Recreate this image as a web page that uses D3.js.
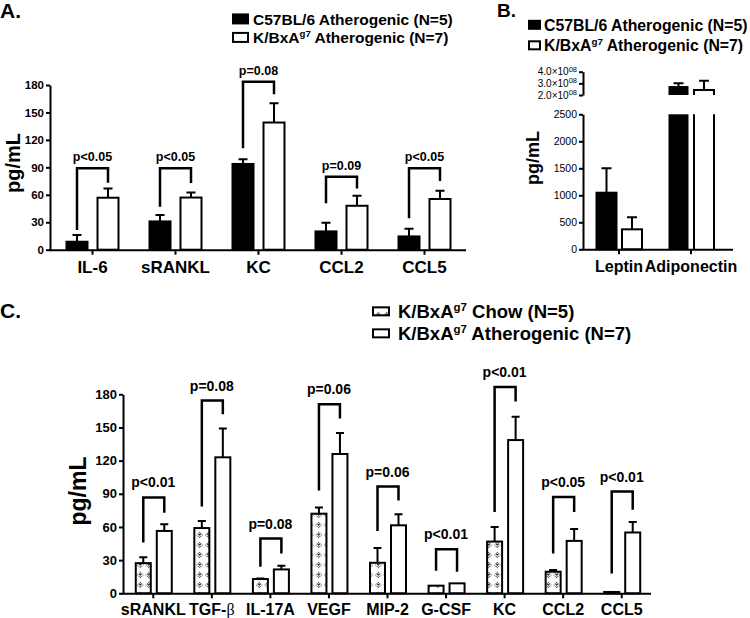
<!DOCTYPE html>
<html><head><meta charset="utf-8">
<script src="https://cdn.jsdelivr.net/npm/d3@7"></script>
<style>
body{margin:0;background:#fff;}
svg{display:block;}
</style></head><body>
<svg id="chart" width="750" height="618"></svg>
<script>
// ---------------- DATA ----------------
// Panel A
const catsA = ["IL-6", "sRANKL", "KC", "CCL2", "CCL5"];
const a_c57 = [8.7, 30.9, 93.7, 20, 14.5];
const a_c57Err = [7.3, 7, 5.1, 9.5, 8.5];
const a_kbx = [56.8, 57, 139, 48, 55.4];
const a_kbxErr = [10.2, 5.6, 21, 11, 9.1];
const a_brTop = [89, 89, 183.6, 79.8, 89];
const a_brLeft = [21.5, 47, 110.8, 50.7, 34.3];
const a_brRight = [73.2, 73, 169.8, 67, 75];
const a_pLabels = ["p<0.05", "p<0.05", "p=0.08", "p=0.09", "p<0.05"];
const ticksA = [0, 30, 60, 90, 120, 150, 180];

// Panel B
const catsB = ["Leptin", "Adiponectin"];
const b_c57 = [1048, 2.77e8];
const b_c57Err = [452, 0.23e8];
const b_kbx = [370, 2.43e8];
const b_kbxErr = [223, 0.79e8];
const ticksBLow = [0, 500, 1000, 1500, 2000, 2500];
const ticksBHigh = [2e8, 3e8, 4e8];

// Panel C
const catsC = ["sRANKL", "TGF-β", "IL-17A", "VEGF", "MIP-2", "G-CSF", "KC", "CCL2", "CCL5"];
const c_chow = [27.3, 59, 12.9, 72, 27.6, 6.9, 46.8, 19.5, 1.2];
const c_chowErr = [5.4, 6.4, 0.6, 5.7, 13.4, 0, 13.2, 1.5, 0];
const c_ath = [56.4, 123, 21.6, 126, 61.5, 9, 138.6, 47.4, 55];
const c_athErr = [6, 26, 3.3, 19, 9.9, 0, 21, 10.8, 9.5];
const c_brTop = [86.7, 174.3, 49.5, 171, 96.6, 39.9, 186.6, 87, 92];
const c_brLeft = [45.9, 78.6, 24, 93, 56.4, 20.4, 73.5, 36, 18];
const c_brRight = [72.9, 162, 36, 158, 84, 19.5, 173.4, 73.5, 75.6];
const c_pLabels = ["p<0.01", "p=0.08", "p=0.08", "p=0.06", "p=0.06", "p<0.01", "p<0.01", "p<0.05", "p<0.01"];
const ticksC = [0, 30, 60, 90, 120, 150, 180];

// ---------------- DRAWING ----------------
const FONT = '"Liberation Sans", Arial, Helvetica, sans-serif';
const svg = d3.select("#chart").attr("font-family", FONT);

// hatch pattern for chow bars
const defs = svg.append("defs");
const pat = defs.append("pattern").attr("id", "chowFill")
  .attr("patternUnits", "userSpaceOnUse").attr("width", 8.5).attr("height", 10);
pat.append("rect").attr("width", 8.5).attr("height", 10).attr("fill", "#fff");
const st = pat.append("g").attr("transform", "translate(4.25,5)")
  .attr("stroke", "#222").attr("stroke-width", 1).attr("fill", "none");
st.append("path").attr("d", "M-1.6,-1.6L1.6,1.6M-1.6,1.6L1.6,-1.6");
[[0, -2.6], [0, 2.6], [-2.6, 0], [2.6, 0]].forEach(([a, b]) =>
  st.append("circle").attr("r", 0.55).attr("cx", a).attr("cy", b).attr("fill", "#222").attr("stroke", "none"));

function styleAxis(g, fs, weight) {
  g.attr("font-family", FONT).attr("font-size", fs).attr("font-weight", weight);
  g.selectAll("path.domain").attr("stroke", "#000").attr("stroke-width", 2);
  g.selectAll(".tick line").attr("stroke", "#000").attr("stroke-width", 2);
  g.selectAll(".tick text").attr("fill", "#000");
}

function supLabel(sel, pre, sup, post, fs, ratio) {
  const r = ratio || 0.62;
  sel.append("tspan").text(pre);
  sel.append("tspan").attr("font-size", fs * r).attr("dy", -fs * 0.38).text(sup);
  sel.append("tspan").attr("dy", fs * 0.38).text(post);
}

function groupedPanel(cfg) {
  const x = d3.scaleBand().domain(cfg.cats).range(cfg.xRange);
  const y = d3.scaleLinear().domain([0, 180]).range(cfg.yRange);
  const g = svg.append("g");
  const cx = c => x(c) + x.bandwidth() / 2;
  const idx = d3.range(cfg.cats.length);

  const series = [
    { v: cfg.v1, e: cfg.e1, off: cfg.off1, fill: cfg.fill1 },
    { v: cfg.v2, e: cfg.e2, off: cfg.off2, fill: "#fff" }
  ];
  series.forEach(s => {
    g.append("g").selectAll("rect").data(idx).join("rect")
      .attr("x", i => cx(cfg.cats[i]) + s.off)
      .attr("y", i => y(s.v[i]))
      .attr("width", cfg.barW)
      .attr("height", i => y(0) - y(s.v[i]))
      .attr("fill", s.fill).attr("stroke", "#000").attr("stroke-width", 2);
    const eb = g.append("g").attr("stroke", "#000").attr("stroke-width", 2).attr("fill", "none");
    eb.selectAll("path").data(idx.filter(i => s.e[i] > 0)).join("path")
      .attr("d", i => {
        const xc = cx(cfg.cats[i]) + s.off + cfg.barW / 2;
        const yt = y(s.v[i] + s.e[i]);
        return `M${xc},${y(s.v[i])}V${yt}M${xc - cfg.capW / 2},${yt}H${xc + cfg.capW / 2}`;
      });
  });

  // brackets
  g.append("g").attr("stroke", "#000").attr("stroke-width", 2.5).attr("fill", "none")
    .selectAll("path").data(idx).join("path")
    .attr("d", i => {
      const xl = cx(cfg.cats[i]) + cfg.off1 + cfg.barW / 2;
      const xr = cx(cfg.cats[i]) + cfg.off2 + cfg.barW / 2;
      return `M${xl},${y(cfg.bl[i])}V${y(cfg.bt[i])}H${xr}V${y(cfg.br[i])}`;
    });
  g.append("g").selectAll("text").data(idx).join("text")
    .attr("x", i => cx(cfg.cats[i]))
    .attr("y", i => y(cfg.bt[i]) - cfg.pOff)
    .attr("text-anchor", "middle").attr("font-weight", "bold")
    .attr("font-size", cfg.pFs).attr("fill", "#000")
    .text(i => cfg.pl[i]);

  // axes
  const ya = g.append("g").attr("transform", `translate(${cfg.xRange[0] - 1},0)`)
    .call(d3.axisLeft(y).tickValues(cfg.yTicks).tickSize(4).tickSizeOuter(0).tickPadding(2));
  styleAxis(ya, cfg.tickFs, "bold");
  const xa = g.append("g").attr("transform", `translate(0,${cfg.yRange[0]})`)
    .call(d3.axisBottom(x).tickSize(5).tickSizeOuter(0).tickPadding(cfg.catPad));
  styleAxis(xa, cfg.catFs, "bold");
  xa.select("path.domain").attr("d", `M${cfg.xRange[0] - 2},0.5H${cfg.xRange[1]}`);
  xa.selectAll(".tick text").each(function (d) {
    if (d === "TGF-β") {
      const t = d3.select(this);
      t.text("TGF-");
      t.append("tspan").attr("font-family", '"Liberation Serif", serif').attr("font-weight", "normal").text("β");
    }
  });

  // y label
  g.append("text")
    .attr("transform", `translate(${cfg.ylab[0]},${cfg.ylab[1]}) rotate(-90)`)
    .attr("text-anchor", "middle").attr("font-weight", "bold")
    .attr("font-size", cfg.ylab[2]).attr("fill", "#000").text("pg/mL");
}

// ---- Panel A ----
groupedPanel({
  cats: catsA, v1: a_c57, e1: a_c57Err, v2: a_kbx, e2: a_kbxErr,
  bt: a_brTop, bl: a_brLeft, br: a_brRight, pl: a_pLabels,
  xRange: [51, 466], yRange: [249.7, 85], yTicks: ticksA,
  barW: 21, off1: -26, off2: 5, fill1: "#000", capW: 9,
  tickFs: 11.5, catFs: 17, catPad: 6, pFs: 12.5, pOff: 7,
  ylab: [20, 163, 20]
});

// ---- Panel C ----
groupedPanel({
  cats: catsC, v1: c_chow, e1: c_chowErr, v2: c_ath, e2: c_athErr,
  bt: c_brTop, bl: c_brLeft, br: c_brRight, pl: c_pLabels,
  xRange: [124, 651], yRange: [593.3, 394.3], yTicks: ticksC,
  barW: 15, off1: -17.5, off2: 3.5, fill1: "url(#chowFill)", capW: 8,
  tickFs: 13, catFs: 16, catPad: 5, pFs: 14, pOff: 10,
  ylab: [86, 491, 23]
});

// ---- Panel B ----
(function () {
  const x = d3.scaleBand().domain(catsB).range([583, 727]);
  const yl = d3.scaleLinear().domain([0, 2500]).range([249.3, 114.3]);
  const yh = d3.scaleLinear().domain([2e8, 4e8]).range([95, 71.7]);
  const lowMax = 2500;
  const yB = v => v <= lowMax ? yl(v) : yh(v);
  const g = svg.append("g");
  const cx = c => x(c) + x.bandwidth() / 2;
  const barW = 20, capW = 10;
  const series = [
    { v: b_c57, e: b_c57Err, off: -22.5, black: true },
    { v: b_kbx, e: b_kbxErr, off: 3, black: false }
  ];
  series.forEach(s => {
    catsB.forEach((c, i) => {
      const x0 = cx(c) + s.off, x1 = x0 + barW, v = s.v[i];
      if (v <= lowMax) {
        g.append("rect").attr("x", x0).attr("y", yl(v)).attr("width", barW)
          .attr("height", yl(0) - yl(v))
          .attr("fill", s.black ? "#000" : "#fff").attr("stroke", "#000").attr("stroke-width", 2);
      } else {
        if (s.black) {
          g.append("rect").attr("x", x0).attr("y", yl(lowMax)).attr("width", barW)
            .attr("height", yl(0) - yl(lowMax)).attr("fill", "#000");
          g.append("rect").attr("x", x0).attr("y", yh(v)).attr("width", barW)
            .attr("height", yh(2e8) - yh(v)).attr("fill", "#000");
        } else {
          g.append("path").attr("fill", "none").attr("stroke", "#000").attr("stroke-width", 2)
            .attr("d", `M${x0},${yl(0)}V${yl(lowMax)}M${x1},${yl(0)}V${yl(lowMax)}`);
          g.append("path").attr("fill", "none").attr("stroke", "#000").attr("stroke-width", 2)
            .attr("d", `M${x0},${yh(2e8)}V${yh(v)}H${x1}V${yh(2e8)}`);
        }
      }
      const xc = x0 + barW / 2, yt = yB(v + s.e[i]);
      g.append("path").attr("fill", "none").attr("stroke", "#000").attr("stroke-width", 2)
        .attr("d", `M${xc},${yB(v)}V${yt}M${xc - capW / 2},${yt}H${xc + capW / 2}`);
    });
  });

  const yaL = g.append("g").attr("transform", "translate(583,0)")
    .call(d3.axisLeft(yl).tickValues(ticksBLow).tickFormat(d3.format("d"))
      .tickSize(4).tickSizeOuter(0).tickPadding(2));
  styleAxis(yaL, 10.5, "normal");
  const yaH = g.append("g").attr("transform", "translate(583,0)")
    .call(d3.axisLeft(yh).tickValues(ticksBHigh).tickSize(4).tickSizeOuter(0).tickPadding(2));
  styleAxis(yaH, 10, "normal");
  yaH.selectAll(".tick text").each(function (d) {
    const t = d3.select(this);
    t.text("");
    supLabel(t, (d / 1e8).toFixed(1) + "×10", "08", "", 10, 0.75);
  });
  const xa = g.append("g").attr("transform", "translate(0,249.3)")
    .call(d3.axisBottom(x).tickSize(5).tickSizeOuter(0).tickPadding(6));
  styleAxis(xa, 16, "bold");
  xa.select("path.domain").attr("d", "M582,0.5H733");

  g.append("text").attr("transform", "translate(539,158) rotate(-90)")
    .attr("text-anchor", "middle").attr("font-weight", "bold").attr("font-size", 18)
    .attr("fill", "#000").text("pg/mL");
})();

// ---- Panel labels ----
[["A.", 0, 18, 21], ["B.", 497, 17, 19], ["C.", 0, 318, 21]].forEach(([t, x, y, fs]) => {
  svg.append("text").attr("x", x).attr("y", y).attr("font-weight", "bold")
    .attr("font-size", fs).attr("fill", "#000").text(t);
});

// ---- Legends ----
function legend(items, x, boxW, boxH, textX, fs) {
  items.forEach(it => {
    svg.append("rect").attr("x", x).attr("y", it.y - boxH / 2 - fs * 0.36).attr("width", boxW).attr("height", boxH)
      .attr("fill", it.fill).attr("stroke", "#000").attr("stroke-width", 2);
    const t = svg.append("text").attr("x", textX).attr("y", it.y)
      .attr("font-weight", "bold").attr("font-size", fs).attr("fill", "#000");
    if (it.sup) supLabel(t, it.pre, it.sup, it.post, fs); else t.text(it.pre);
  });
}
legend([
  { y: 24.5, fill: "#000", pre: "C57BL/6 Atherogenic (N=5)" },
  { y: 43, fill: "#fff", pre: "K/BxA", sup: "g7", post: " Atherogenic (N=7)" }
], 233, 15, 9, 253, 15.5);
legend([
  { y: 30.5, fill: "#000", pre: "C57BL/6 Atherogenic (N=5)" },
  { y: 51, fill: "#fff", pre: "K/BxA", sup: "g7", post: " Atherogenic (N=7)" }
], 529, 11, 8, 544, 15.8);
legend([
  { y: 318, fill: "url(#chowFill)", pre: "K/BxA", sup: "g7", post: " Chow (N=5)" },
  { y: 340, fill: "#fff", pre: "K/BxA", sup: "g7", post: " Atherogenic (N=7)" }
], 373, 16, 8, 398, 18.5);
</script>
</body></html>
